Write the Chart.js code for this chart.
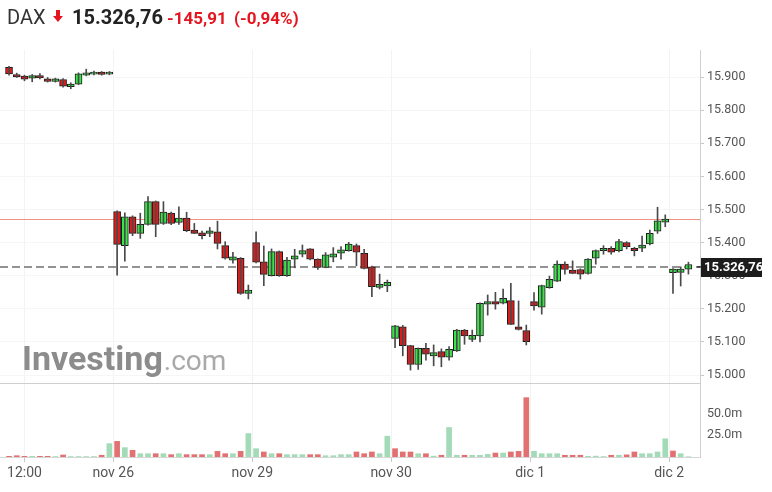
<!DOCTYPE html>
<html>
<head>
<meta charset="utf-8">
<script src="https://cdn.jsdelivr.net/npm/chart.js@4.4.0/dist/chart.umd.min.js"></script>
<style>
  html, body { margin: 0; padding: 0; background: #fff; }
  #wrap { position: relative; width: 772px; height: 492px; overflow: hidden; }
  #chart { position: absolute; left: 0; top: 0; }
  .hd { position: absolute; top: 6px; line-height: 22px; font-family: Roboto, sans-serif; white-space: nowrap; }
  #sym { left: 7px; font-size: 20px; color: #333; }
  #arrow { position: absolute; left: 53px; top: 10px; }
  #last { left: 72px; font-size: 20px; font-weight: bold; color: #222; }
  #chg { left: 167px; font-size: 17px; font-weight: bold; color: #e4151f; top: 7px; }
  #pct { left: 234px; font-size: 17px; font-weight: bold; color: #e4151f; top: 7px; }
</style>
</head>
<body>
<div id="wrap">
  <canvas id="chart" width="772" height="492"></canvas>
  <span class="hd" id="sym"></span>
  <svg id="arrow" width="10" height="13" viewBox="0 0 10 13"><polygon points="3,0 7,0 7,6 10,6 5,12 0,6 3,6" fill="#e4151f"/></svg>
  <span class="hd" id="last"></span>
  <span class="hd" id="chg"></span>
  <span class="hd" id="pct"></span>
</div>
<script>
// header
const symbol = 'DAX';
const lastText = '15.326,76';
const changeText = '-145,91';
const pctText = '(-0,94%)';
const lastPrice = 15326.76;
const prevClose = 15472.67;

// 30-minute candles, nov 25 11:00 -> dic 2 10:00
const opens = [
  15930, 15908, 15903, 15897, 15905, 15895, 15887, 15893, 15871, 15879, 15906, 15909, 15915, 15909,
  15494, 15391, 15478, 15428, 15455, 15524, 15458, 15489, 15461, 15474, 15438, 15430, 15428, 15433, 15391, 15347, 15353, 15247,
  15400, 15342, 15300, 15373, 15300, 15350, 15365, 15381, 15350, 15325, 15356, 15368, 15376, 15391, 15368, 15327, 15265, 15269,
  15111, 15146, 15089, 15032, 15081, 15058, 15071, 15054, 15073, 15136, 15108, 15118, 15214, 15222, 15217, 15225, 15146, 15134,
  15222, 15205, 15264, 15284, 15335, 15317, 15319, 15307, 15353, 15376, 15383, 15376, 15400, 15383, 15383, 15396, 15435, 15462,
  15309, 15310, 15320
];
const highs = [
  15933, 15912, 15906, 15908, 15911, 15899, 15897, 15896, 15883, 15913, 15924, 15918, 15917, 15917,
  15496, 15490, 15481, 15489, 15539, 15526, 15524, 15492, 15508, 15492, 15458, 15435, 15446, 15465, 15403, 15371, 15355, 15272,
  15433, 15390, 15381, 15375, 15356, 15380, 15393, 15382, 15351, 15370, 15385, 15388, 15401, 15396, 15380, 15329, 15305, 15287,
  15150, 15150, 15090, 15082, 15096, 15091, 15079, 15086, 15138, 15138, 15136, 15218, 15242, 15250, 15260, 15277, 15224, 15151,
  15249, 15272, 15299, 15345, 15342, 15345, 15321, 15352, 15378, 15391, 15388, 15410, 15403, 15386, 15420, 15438, 15507, 15484,
  15322, 15327, 15341
];
const lows = [
  15906, 15899, 15889, 15886, 15895, 15885, 15885, 15870, 15865, 15877, 15904, 15907, 15906, 15907,
  15302, 15344, 15421, 15413, 15453, 15418, 15455, 15454, 15455, 15433, 15427, 15411, 15418, 15381, 15350, 15338, 15244, 15230,
  15339, 15270, 15299, 15298, 15298, 15324, 15357, 15348, 15319, 15324, 15342, 15350, 15374, 15330, 15321, 15237, 15260, 15252,
  15083, 15058, 15015, 15017, 15045, 15028, 15025, 15045, 15071, 15093, 15101, 15100, 15181, 15199, 15215, 15152, 15136, 15091,
  15196, 15184, 15262, 15282, 15305, 15306, 15290, 15305, 15335, 15365, 15365, 15372, 15381, 15360, 15373, 15393, 15428, 15448,
  15247, 15269, 15305
];
const closes = [
  15910, 15901, 15894, 15905, 15898, 15887, 15895, 15873, 15879, 15910, 15913, 15915, 15908, 15915,
  15395, 15478, 15428, 15455, 15524, 15455, 15492, 15458, 15474, 15436, 15428, 15421, 15436, 15398, 15353, 15357, 15247, 15257,
  15341, 15304, 15373, 15300, 15347, 15360, 15376, 15350, 15325, 15363, 15366, 15378, 15396, 15371, 15322, 15267, 15274, 15280,
  15149, 15089, 15032, 15081, 15063, 15068, 15054, 15078, 15136, 15118, 15120, 15217, 15222, 15214, 15232, 15153, 15138, 15101,
  15209, 15270, 15289, 15335, 15319, 15307, 15305, 15350, 15376, 15383, 15371, 15403, 15388, 15376, 15393, 15428, 15466, 15471,
  15320, 15320, 15334
];
// volume in millions
const volumes = [
  0.8, 1.5, 0.8, 0.8, 0.8, 0.8, 0.5, 2.3, 0.5, 0.5, 0.5, 0.5, 2.0, 15.4,
  18, 10.8, 7.7, 3.8, 3.8, 3.8, 3.8, 2.7, 3.8, 2.7, 2.7, 2.7, 2.7, 6.5, 3.8, 3.8, 6.5, 27,
  9.6, 5.8, 3.8, 3.8, 2.7, 2.7, 2.7, 2.7, 2.7, 1.5, 1.5, 2.7, 2.7, 5.8, 3.8, 5.8, 3.8, 24,
  9.6, 5.8, 5.8, 3.8, 3.8, 1, 2, 34, 2, 2, 2, 2, 3, 4.6, 4.6, 5.8, 6.5, 68.4,
  6.5, 3.8, 3.8, 3.8, 2, 2, 2, 0.8, 1, 0.5, 2, 2, 2.5, 5.8, 3.8, 3.8, 5.8, 21,
  6.9, 3.8, 0.3
];

// time axis labels (candle index -> label)
const timeTickPos = [2, 13.5, 31.5, 49.5, 67.5, 85.5];
const timeTickLabels = ['12:00', 'nov 26', 'nov 29', 'nov 30', 'dic 1', 'dic 2'];
const priceTicks = [15000, 15100, 15200, 15300, 15400, 15500, 15600, 15700, 15800, 15900];
const volumeTicks = [25, 50];

document.getElementById('sym').textContent = symbol;
document.getElementById('last').textContent = lastText;
document.getElementById('chg').textContent = changeText;
document.getElementById('pct').textContent = pctText;

const UP = '#3ae348';
const DOWN = '#e01b1b';
const VOL_UP = '#a3dab8';
const VOL_DOWN = '#e27171';

const idx = closes.map((c, i) => i);
const wickData = idx.map(i => ({ x: i, y: [lows[i], highs[i]] }));
const bodyData = idx.map(i => ({ x: i, y: [Math.min(opens[i], closes[i]), Math.max(opens[i], closes[i])] }));
const bodyColors = idx.map(i => closes[i] >= opens[i] ? UP : DOWN);
const volData = idx.map(i => ({ x: i, y: volumes[i] }));
const volColors = idx.map(i => {
    const up = i === 0 ? closes[i] >= opens[i] : closes[i] >= closes[i - 1];
    return up ? VOL_UP : VOL_DOWN;
});

function fmtPrice(v) {
    return String(v).replace(/\B(?=(\d{3})+(?!\d))/g, '.');
}

const overlays = {
    id: 'overlays',
    beforeDatasetsDraw(chart) {
        const ctx = chart.ctx;
        const area = chart.chartArea;
        const y = chart.scales.y;
        ctx.save();
        // watermark
        ctx.textBaseline = 'alphabetic';
        ctx.fillStyle = '#8c8c8c';
        ctx.font = 'bold 34px Roboto';
        ctx.fillText('Investing', 22, 370);
        const w = ctx.measureText('Investing').width;
        ctx.fillStyle = '#a9a9a9';
        ctx.font = '28px Roboto';
        ctx.fillText('.com', 22 + w + 1, 370);
        // panel separator
        ctx.fillStyle = '#cfcfcf';
        ctx.fillRect(area.left, Math.round(y.bottom), area.right - area.left, 1);
        // previous close
        const yp = Math.round(y.getPixelForValue(prevClose));
        ctx.fillStyle = 'rgba(238, 110, 95, 0.75)';
        ctx.fillRect(area.left, yp, area.right - area.left, 1);
        // last price
        const yl = y.getPixelForValue(lastPrice);
        ctx.strokeStyle = '#707070';
        ctx.lineWidth = 1.5;
        ctx.setLineDash([8, 4]);
        ctx.beginPath();
        ctx.moveTo(area.left, yl);
        ctx.lineTo(area.right, yl);
        ctx.stroke();
        ctx.restore();
    },
    afterDraw(chart) {
        const ctx = chart.ctx;
        const area = chart.chartArea;
        const yl = chart.scales.y.getPixelForValue(lastPrice);
        ctx.save();
        ctx.strokeStyle = '#333';
        ctx.lineWidth = 1.5;
        ctx.beginPath();
        ctx.moveTo(area.right - 3, yl);
        ctx.lineTo(area.right + 2, yl);
        ctx.stroke();
        ctx.fillStyle = '#1c1c1c';
        ctx.fillRect(area.right + 1, Math.round(yl) - 9, 61, 19);
        ctx.fillStyle = '#fff';
        ctx.font = 'bold 13px Roboto';
        ctx.textBaseline = 'middle';
        ctx.fillText(lastText, area.right + 4, Math.round(yl) + 1);
        ctx.restore();
    }
};

new Chart(document.getElementById('chart').getContext('2d'), {
    type: 'bar',
    data: {
        datasets: [
            {
                label: 'wick',
                data: wickData,
                yAxisID: 'y',
                backgroundColor: '#4a4a4a',
                barThickness: 1,
                grouped: false
            },
            {
                label: 'body',
                data: bodyData,
                yAxisID: 'y',
                backgroundColor: bodyColors,
                borderColor: '#1a1a1a',
                borderWidth: 1,
                borderSkipped: false,
                barThickness: 7,
                grouped: false
            },
            {
                label: 'volume',
                data: volData,
                yAxisID: 'yv',
                backgroundColor: volColors,
                barThickness: 5,
                grouped: false
            }
        ]
    },
    options: {
        responsive: false,
        animation: false,
        layout: { padding: { top: 50, left: 0, right: 0, bottom: 0 } },
        plugins: { legend: { display: false }, tooltip: { enabled: false } },
        scales: {
            x: {
                type: 'linear',
                offset: false,
                min: -1.17,
                max: 89.5,
                afterBuildTicks: s => { s.ticks = timeTickPos.map(v => ({ value: v })); },
                afterFit: s => { s.height = 35; },
                ticks: {
                    autoSkip: false,
                    maxRotation: 0,
                    padding: 3,
                    color: '#555',
                    font: { family: 'Roboto', size: 14 },
                    callback: (v, i) => timeTickLabels[i]
                },
                grid: { offset: false, color: '#f3f3f3', tickColor: '#c8c8c8', tickLength: 5 },
                border: { color: '#d6d6d6' }
            },
            y: {
                position: 'right',
                stack: 'panes',
                stackWeight: 333,
                min: 14976,
                max: 15982,
                afterBuildTicks: s => { s.ticks = priceTicks.map(v => ({ value: v })); },
                afterFit: s => { s.width = 72; },
                ticks: {
                    padding: 3,
                    color: '#555',
                    font: { family: 'Roboto', size: 12.5 },
                    callback: v => fmtPrice(v)
                },
                grid: { color: '#f6f6f6', tickColor: '#c8c8c8', tickLength: 4 },
                border: { color: '#d0d0d0' }
            },
            yv: {
                position: 'right',
                stack: 'panes',
                stackWeight: 74,
                min: 0,
                max: 85.3,
                afterBuildTicks: s => { s.ticks = volumeTicks.map(v => ({ value: v })); },
                afterFit: s => { s.width = 72; },
                ticks: {
                    padding: 3,
                    color: '#555',
                    font: { family: 'Roboto', size: 12.5 },
                    callback: v => v.toFixed(1) + 'm'
                },
                grid: { display: false, drawTicks: true, tickColor: '#c8c8c8', tickLength: 4 },
                border: { color: '#d0d0d0' }
            }
        }
    },
    plugins: [overlays]
});
</script>
</body>
</html>
